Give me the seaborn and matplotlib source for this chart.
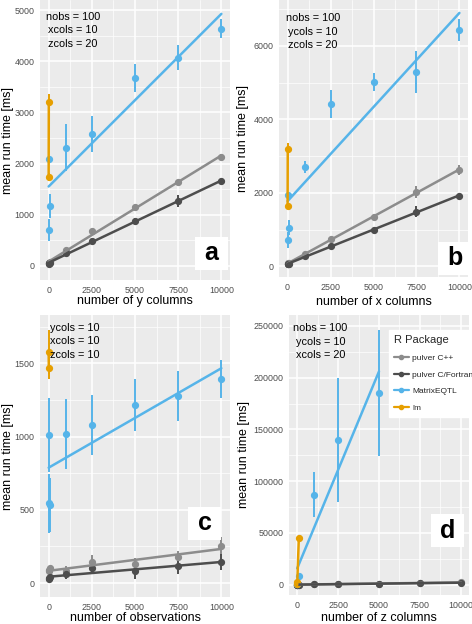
import numpy as np
import pandas as pd
import matplotlib
matplotlib.use("Agg")
import matplotlib.pyplot as plt
from matplotlib.lines import Line2D
from matplotlib.patches import Rectangle
import seaborn as sns

# ---------------- data ----------------
x_vals = [1, 10, 100, 1000, 2500, 5000, 7500, 10000]
lm_x = [1, 10]

# panel a: number of y columns
a_cpp = [55, 60, 75, 300, 670, 1150, 1630, 2130]
a_cpp_sd = [10, 10, 10, 30, 30, 40, 40, 50]
a_fortran = [40, 45, 60, 240, 490, 870, 1270, 1650]
a_fortran_sd = [10, 10, 10, 20, 30, 60, 120, 40]
a_meqtl = [2080, 700, 1170, 2310, 2580, 3670, 4070, 4640]
a_meqtl_sd = [50, 220, 240, 460, 350, 270, 240, 190]
a_lm = [1730, 3200]
a_lm_sd = [80, 160]

# panel b: number of x columns
b_cpp = [70, 80, 95, 330, 750, 1350, 2020, 2620]
b_cpp_sd = [10, 10, 10, 20, 30, 40, 160, 140]
b_fortran = [55, 60, 75, 280, 560, 980, 1490, 1920]
b_fortran_sd = [10, 10, 10, 20, 30, 30, 150, 50]
b_meqtl = [1940, 720, 1050, 2710, 4430, 5010, 5290, 6430]
b_meqtl_sd = [40, 210, 200, 160, 380, 250, 560, 300]
b_lm = [1640, 3200]
b_lm_sd = [50, 150]

# panel c: number of observations
c_cpp = [80, 90, 100, 80, 145, 130, 180, 255]
c_cpp_sd = [30, 30, 20, 40, 45, 40, 40, 60]
c_fortran = [30, 35, 40, 65, 100, 80, 115, 145]
c_fortran_sd = [25, 25, 20, 35, 30, 50, 50, 55]
c_meqtl = [1010, 545, 535, 1020, 1080, 1215, 1275, 1395]
c_meqtl_sd = [255, 200, 185, 240, 205, 175, 170, 130]
c_lm = [1575, 1470]
c_lm_sd = [150, 80]

# panel d: number of z columns
d_meqtl_x = [1, 10, 100, 1000, 2500, 5000]
d_lm_x = [1, 10, 100]
d_cpp = [10, 20, 100, 250, 600, 1100, 1600, 2200]
d_cpp_sd = [5, 5, 10, 20, 30, 50, 60, 80]
d_fortran = [8, 15, 80, 200, 500, 950, 1400, 1900]
d_fortran_sd = [5, 5, 10, 20, 30, 50, 60, 80]
d_meqtl = [500, 1000, 8500, 87000, 140000, 185000]
d_meqtl_sd = [200, 300, 1000, 22000, 60000, 61000]
d_lm = [300, 3000, 45000]
d_lm_sd = [100, 300, 1000]

packages = ["pulver C++", "pulver C/Fortran", "MatrixEQTL", "lm"]
colors = {"pulver C++": "#8C8C8C", "pulver C/Fortran": "#4D4D4D",
          "MatrixEQTL": "#56B4E9", "lm": "#E69F00"}

panels = [
    dict(letter="a", xlabel="number of y columns",
         series=[(x_vals, a_cpp, a_cpp_sd), (x_vals, a_fortran, a_fortran_sd),
                 (x_vals, a_meqtl, a_meqtl_sd), (lm_x, a_lm, a_lm_sd)],
         ylim=(-280, 5200), yticks=[0, 1000, 2000, 3000, 4000, 5000],
         note="nobs = 100\nxcols = 10\nzcols = 20",
         rect=[40, 0, 230, 280], note_pos=(0.174, 0.958), box=(0.903, 0.095),
         ylab=-0.17, xlab=-0.075),
    dict(letter="b", xlabel="number of x columns",
         series=[(x_vals, b_cpp, b_cpp_sd), (x_vals, b_fortran, b_fortran_sd),
                 (x_vals, b_meqtl, b_meqtl_sd), (lm_x, b_lm, b_lm_sd)],
         ylim=(-290, 7250), yticks=[0, 2000, 4000, 6000],
         note="nobs = 100\nycols = 10\nzcols = 20",
         rect=[279, 0, 468, 277], note_pos=(0.18, 0.952), box=(0.929, 0.068),
         ylab=-0.19, xlab=-0.09),
    dict(letter="c", xlabel="number of observations",
         series=[(x_vals, c_cpp, c_cpp_sd), (x_vals, c_fortran, c_fortran_sd),
                 (x_vals, c_meqtl, c_meqtl_sd), (lm_x, c_lm, c_lm_sd)],
         ylim=(-95, 1830), yticks=[0, 500, 1000, 1500],
         note="ycols = 10\nxcols = 10\nzcols = 10",
         rect=[40, 315, 230, 597], note_pos=(0.184, 0.972), box=(0.866, 0.261),
         ylab=-0.17, xlab=-0.075),
    dict(letter="d", xlabel="number of z columns",
         series=[(x_vals, d_cpp, d_cpp_sd), (x_vals, d_fortran, d_fortran_sd),
                 (d_meqtl_x, d_meqtl, d_meqtl_sd), (d_lm_x, d_lm, d_lm_sd)],
         ylim=(-10000, 260500), yticks=[0, 50000, 100000, 150000, 200000, 250000],
         note="nobs = 100\nycols = 10\nxcols = 20",
         rect=[289, 315, 469, 595], note_pos=(0.175, 0.971), box=(0.883, 0.23),
         ylab=-0.25, xlab=-0.082),
]

# ---------------- style ----------------
sns.set_theme(style="darkgrid", rc={
    "axes.facecolor": "#EBEBEB",
    "grid.color": "white",
    "axes.edgecolor": "#EBEBEB",
})
plt.rcParams["font.family"] = ["Liberation Sans", "DejaVu Sans"]

W, H = 472, 624
fig = plt.figure(figsize=(W / 100, H / 100), dpi=100)

for p in panels:
    l, t, r, b = p["rect"]
    ax = fig.add_axes([l / W, 1 - b / H, (r - l) / W, (b - t) / H])
    ax.set_xlim(-500, 10500)
    ax.set_ylim(*p["ylim"])
    xt = [0, 2500, 5000, 7500, 10000]
    ax.set_xticks(xt)
    ax.set_xticklabels([str(v) for v in xt])
    ax.set_yticks(p["yticks"])
    ax.set_yticklabels([str(v) for v in p["yticks"]])
    ax.set_xticks([1250, 3750, 6250, 8750], minor=True)
    yt = p["yticks"]
    step = yt[1] - yt[0]
    ax.set_yticks([v + step / 2 for v in [yt[0] - step] + yt], minor=True)
    ax.grid(which="major", color="white", lw=1.1)
    ax.grid(which="minor", color="white", lw=0.5)
    ax.tick_params(which="major", length=2.5, width=0.8, color="#333333",
                   labelsize=6.4, labelcolor="#4D4D4D", pad=1.5, direction="out")
    ax.tick_params(which="minor", length=0)
    for s in ax.spines.values():
        s.set_visible(False)
    ax.set_axisbelow(True)

    for pkg, (xs, ys, sds) in zip(packages, p["series"]):
        col = colors[pkg]
        ax.errorbar(xs, ys, yerr=sds, fmt="o", ms=4.2, color=col,
                    ecolor=col, elinewidth=1.4, capsize=0, zorder=3)
        df = pd.DataFrame({"x": xs, "y": ys})
        sns.regplot(data=df, x="x", y="y", ax=ax, scatter=False, ci=None,
                    truncate=True, color=col, line_kws={"lw": 1.8, "zorder": 4})

    ax.set_xlim(-500, 10500)
    ax.set_ylim(*p["ylim"])
    ax.set_xlabel(p["xlabel"], fontsize=9, color="black", va="center")
    ax.set_ylabel("mean run time [ms]", fontsize=9, color="black", va="center")
    ax.xaxis.set_label_coords(0.5, p["xlab"])
    ax.yaxis.set_label_coords(p["ylab"], 0.5)

    ax.text(p["note_pos"][0], p["note_pos"][1], p["note"], transform=ax.transAxes,
            ha="center", va="top", fontsize=7.8, linespacing=1.45,
            multialignment="center", color="black", zorder=6)

    bx, by = p["box"]
    bw = 33 / ((r - l))
    bh = 33 / ((b - t))
    ax.add_patch(Rectangle((bx - bw / 2, by - bh / 2), bw, bh,
                           transform=ax.transAxes, facecolor="white",
                           edgecolor="none", zorder=7))
    ax.text(bx, by, p["letter"], transform=ax.transAxes, ha="center",
            va="center", fontsize=18, fontweight="bold", color="black", zorder=8)

    if p["letter"] == "d":
        handles = [Line2D([], [], color=colors[k], marker="o", ms=3, lw=1.6)
                   for k in packages]
        leg = ax.legend(handles, packages, title="R Package", loc="upper left",
                        bbox_to_anchor=(0.53, 0.96), fontsize=6,
                        title_fontsize=8, frameon=True, fancybox=False,
                        framealpha=1, edgecolor="white", facecolor="white",
                        handlelength=1.8, handletextpad=0.4, labelspacing=1.05,
                        borderpad=0.6)
        leg._legend_box.align = "left"
        leg.set_zorder(9)

fig.savefig("out.png", dpi=100)
